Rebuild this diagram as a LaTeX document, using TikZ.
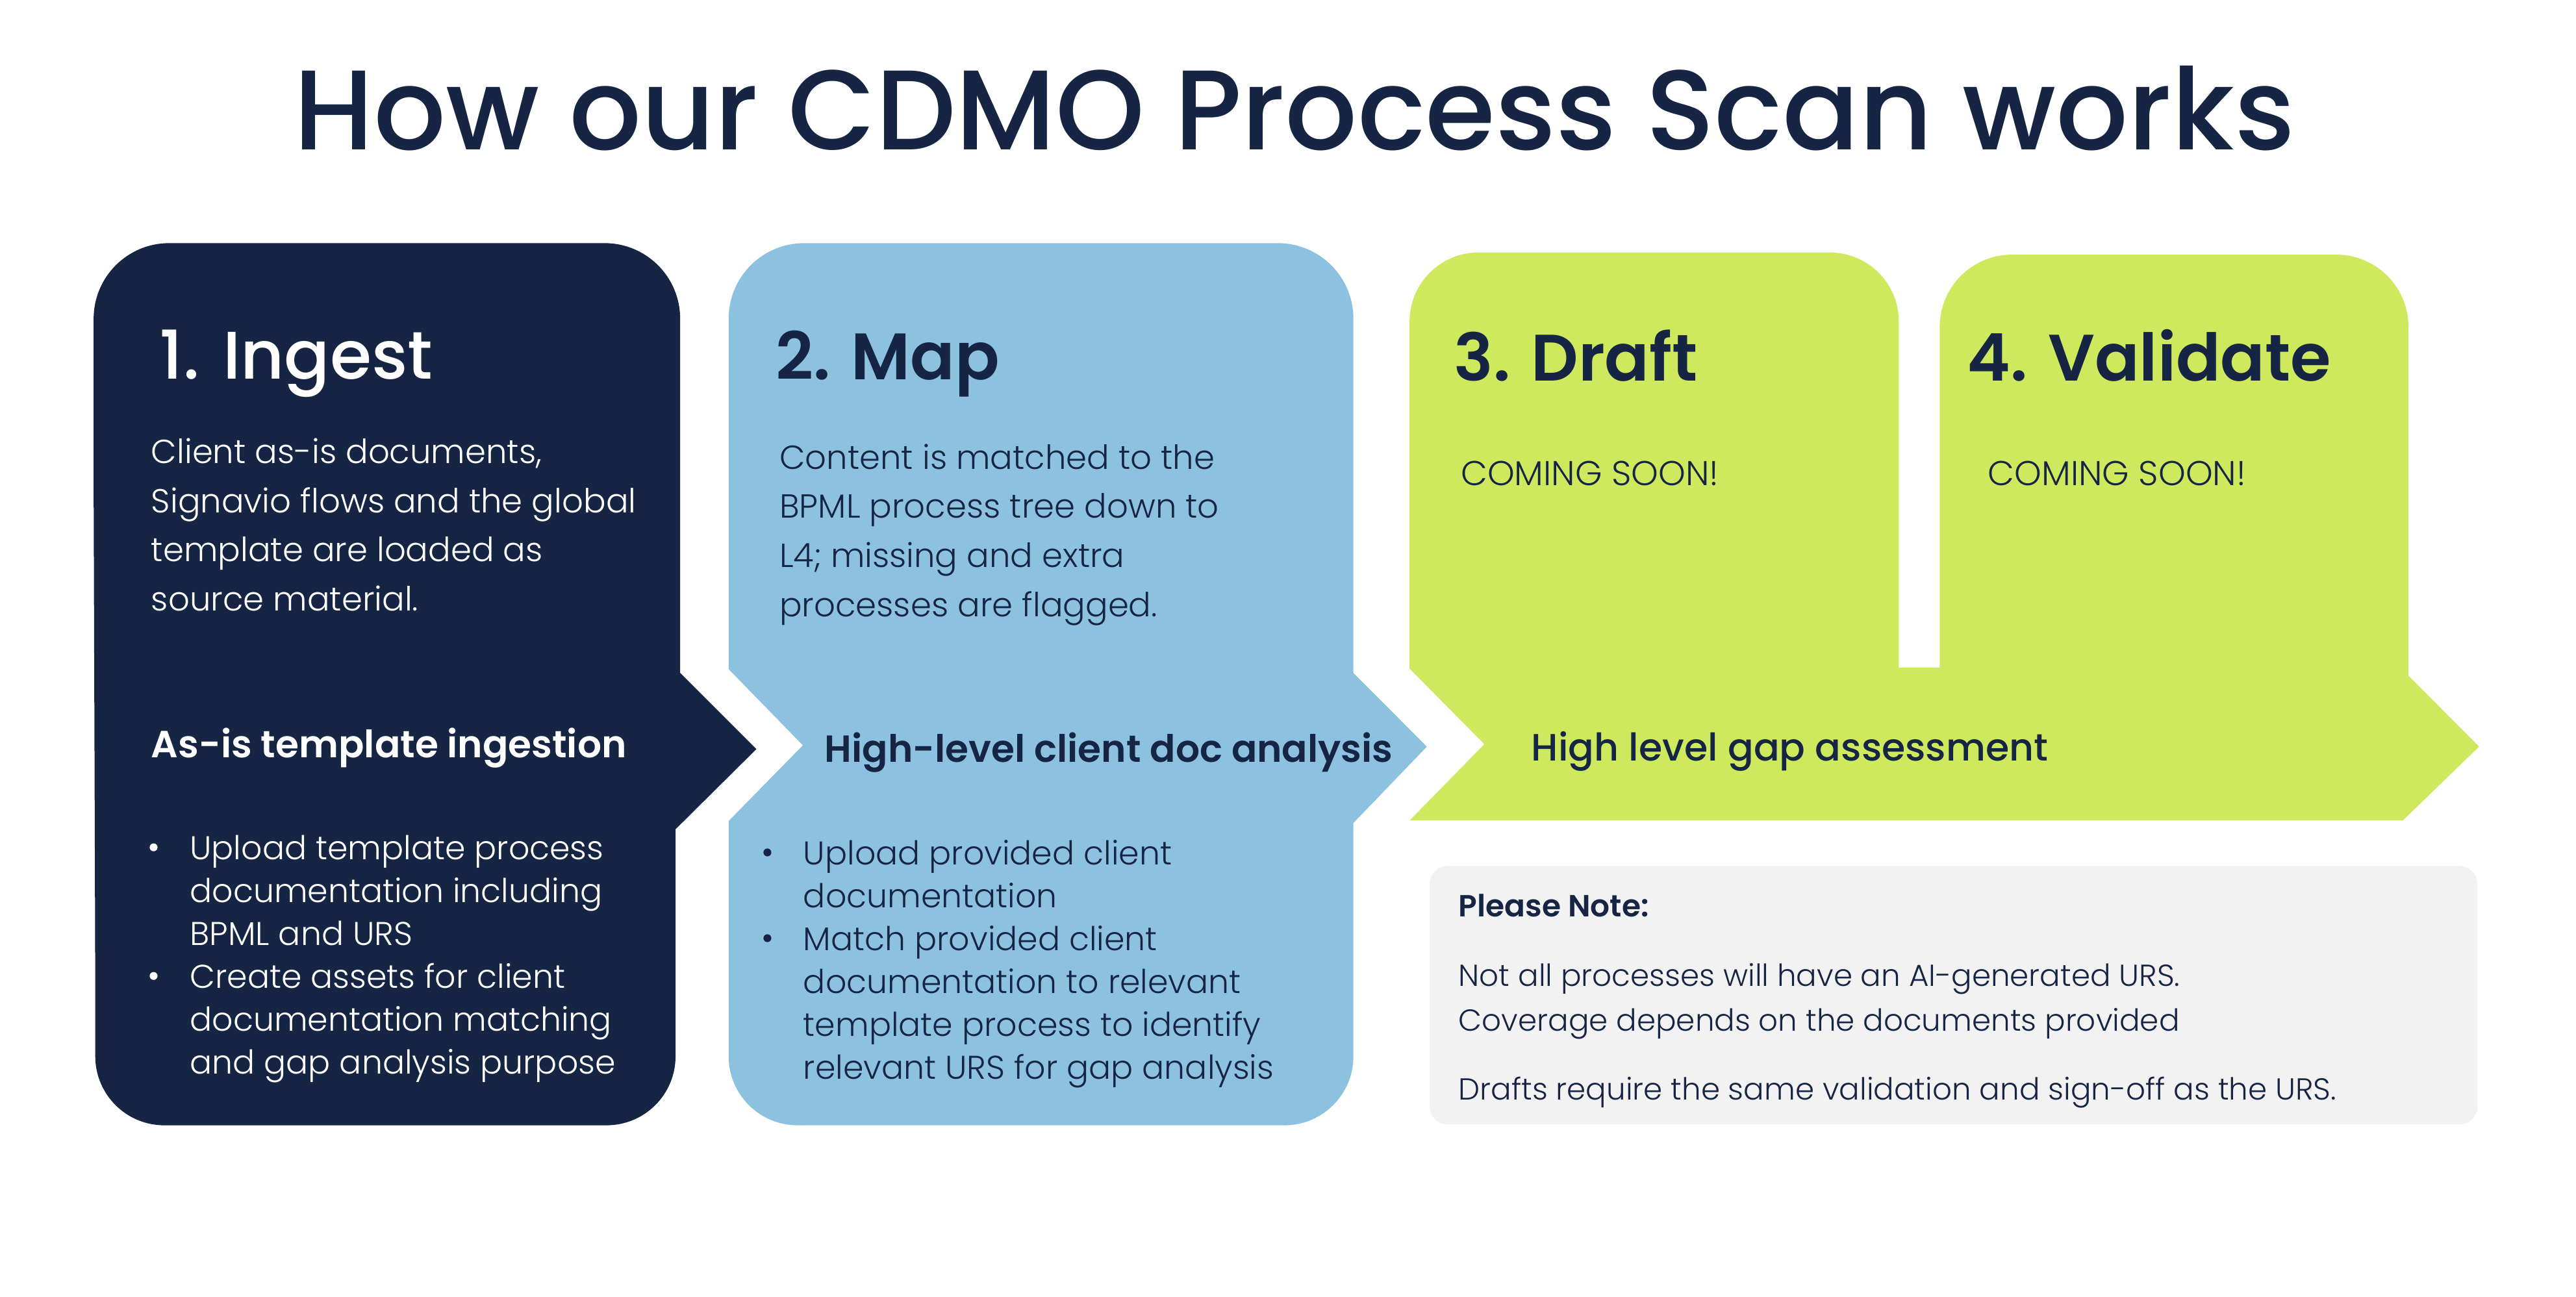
\documentclass[tikz,border=0pt]{standalone}
\usepackage{fontspec}
\setmainfont{Poppins}
\IfFontExistsTF{Poppins Light}{\newfontfamily\pLight{Poppins Light}}{\newfontfamily\pLight{Poppins}}
\IfFontExistsTF{Poppins Medium}{\newfontfamily\pMed{Poppins Medium}}{\newfontfamily\pMed{Poppins}}
\IfFontExistsTF{Poppins SemiBold}{\newfontfamily\pSemi{Poppins SemiBold}}{\newfontfamily\pSemi{Poppins Bold}}
\newfontfamily\pReg{Poppins}
\definecolor{navy}{HTML}{172545}
\definecolor{skyb}{HTML}{8CC2E0}
\definecolor{lime}{HTML}{CFE95E}
\definecolor{notegrey}{HTML}{F2F2F2}
\tikzset{
  txt/.style={inner sep=0pt, anchor=base west},
  maintitle/.style={inner sep=0pt, anchor=base, font=\pMed\fontsize{69}{80}\selectfont, text=navy},
  stephead/.style={txt, font=\pSemi\fontsize{40}{50}\selectfont},
  stepheadm/.style={txt, font=\pMed\fontsize{41}{50}\selectfont},
  bodytxt/.style={txt, font=\pLight\fontsize{20.3}{30}\selectfont},
  subhead/.style={txt, font=\pSemi\fontsize{23}{30}\selectfont},
  subheadm/.style={txt, font=\pMed\fontsize{23.2}{30}\selectfont},
  bultxt/.style={txt, font=\pLight\fontsize{20}{26}\selectfont},
  soon/.style={txt, font=\pLight\fontsize{21}{26}\selectfont, text=navy},
  notehead/.style={txt, font=\pSemi\fontsize{18.6}{24}\selectfont, text=navy},
  notebody/.style={txt, font=\pLight\fontsize{18.5}{24}\selectfont, text=navy},
}
\begin{document}
\begin{tikzpicture}[x=1pt,y=-1pt]
\path[use as bounding box, fill=white] (0,0) rectangle (1568,789.5);

% title
\node[maintitle] (title) at (788,91) {How our CDMO Process Scan works};

% box 1
\fill[navy] (57,300) [rounded corners=46pt] -- (57,148) -- (414,148) -- (414,300)
  [sharp corners] -- (414,409.6) -- (460.4,456) -- (411.2,504.8) -- (411.2,600)
  [rounded corners=42pt] -- (411.2,685) -- (58,685) -- (58,600) [sharp corners] -- cycle;

% box 2
\fill[skyb] (443.5,300) [rounded corners=46pt] -- (443.5,148) -- (823.8,148) -- (823.8,300)
  [sharp corners] -- (823.8,409.7) -- (868.5,454.5) -- (823.8,501) -- (823.8,600)
  [rounded corners=42pt] -- (823.8,685) -- (443.5,685) -- (443.5,600)
  [sharp corners] -- (443.5,499.8) -- (488.7,453.7) -- (443.5,407.3) -- cycle;

% boxes 3 and 4 (green)
\fill[lime] (858,300) [rounded corners=42pt] -- (858,153.7) -- (1155.8,153.7) -- (1155.8,300)
  [sharp corners] -- (1155.8,406.5) -- (1180.7,406.5) -- (1180.7,300)
  [rounded corners=44pt] -- (1180.7,155) -- (1466,155) -- (1466,300)
  [sharp corners] -- (1466,411.3) -- (1509,454.5) -- (1462.5,499.5) -- (858,499.5)
  -- (903.5,453) -- (858,407) -- cycle;

% note box
\fill[notegrey, rounded corners=11pt] (870.2,527.2) rectangle (1508,684.5);

% ---- texts box 1
\node[stepheadm, text=white] (h1) at (97,230.6) {1. Ingest};
\foreach \t [count=\i from 0] in {{Client as-is documents,},{Signavio flows and the global},{template are loaded as},{source material.}}
  \node[bodytxt, text=white] (b1l\i) at (91.9,{282.1+29.9*\i}) {\t};
\node[subhead, text=white] (s1) at (91.9,461.3) {As-is template ingestion};
\foreach \t [count=\i from 0] in {{Upload template process},{documentation including},{BPML and URS},{Create assets for client},{documentation matching},{and gap analysis purpose}}
  \node[bultxt, text=white] (u1l\i) at (115.4,{523.4+26.1*\i}) {\t};
\fill[white] (93.5,515.8) circle[radius=2.4pt];
\fill[white] (93.5,{515.8+26.1*3}) circle[radius=2.4pt];

% ---- texts box 2
\node[stephead, text=navy] (h2) at (472,231) {2. Map};
\foreach \t [count=\i from 0] in {{Content is matched to the},{BPML process tree down to},{L4; missing and extra},{processes are flagged.}}
  \node[bodytxt, text=navy] (b2l\i) at (474.3,{285.5+29.9*\i}) {\t};
\node[subhead, text=navy] (s2) at (501.9,464) {High-level client doc analysis};
\foreach \t [count=\i from 0] in {{Upload provided client},{documentation},{Match provided client},{documentation to relevant},{template process to identify},{relevant URS for gap analysis}}
  \node[bultxt, text=navy] (u2l\i) at (488.8,{526.5+26.1*\i}) {\t};
\fill[navy] (467.1,{526.5-7.6}) circle[radius=2.4pt];
\fill[navy] (467.1,{526.5+26.1*2-7.6}) circle[radius=2.4pt];

% ---- texts boxes 3, 4
\node[stephead, text=navy] (h3) at (884.8,231.9) {3. Draft};
\node[stephead, text=navy] (h4) at (1197,231.9) {4. Validate};
\node[soon] (c3) at (889,295.6) {COMING SOON!};
\node[soon] (c4) at (1209.8,295.6) {COMING SOON!};
\node[subheadm, text=navy] (s3) at (932,463.3) {High level gap assessment};

% ---- note
\node[notehead] (nh) at (887.7,558.2) {Please Note:};
\node[notebody] (n1) at (887.7,600.4) {Not all processes will have an AI-generated URS.};
\node[notebody] (n2) at (887.7,627.6) {Coverage depends on the documents provided};
\node[notebody] (n3) at (887.7,669.6) {Drafts require the same validation and sign-off as the URS.};
\end{tikzpicture}
\end{document}
